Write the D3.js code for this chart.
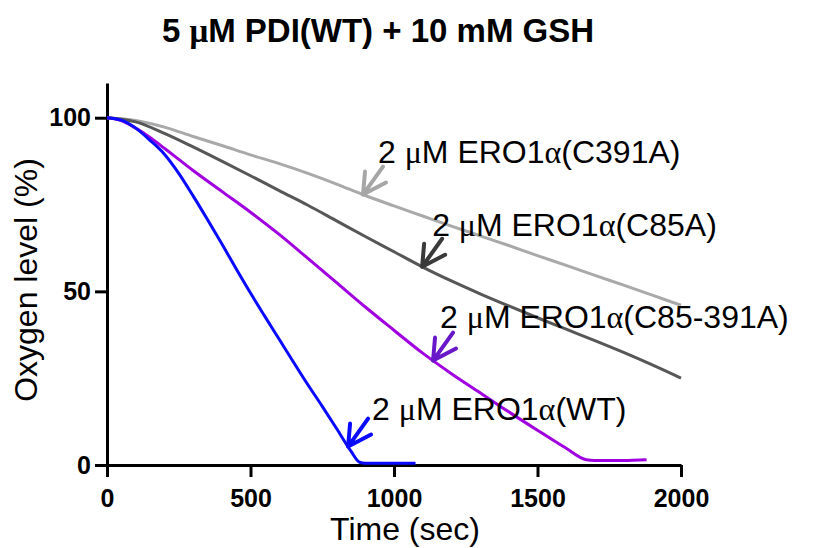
<!DOCTYPE html>
<html>
<head>
<meta charset="utf-8">
<script src="https://cdn.jsdelivr.net/npm/d3@7"></script>
<style>
  body { margin: 0; background: #fff; }
  text { font-family: "Liberation Sans", Arial, sans-serif; }
  tspan.greek { font-family: "Liberation Serif", "Times New Roman", serif; }
</style>
</head>
<body>
<div id="chart"></div>
<script>

// Time points (sec) and oxygen level (%)
var wtTime = [0, 50, 100, 150, 200, 250, 300, 350, 400, 450, 500, 550, 600, 650, 700, 750, 800, 850, 880, 900, 1000, 1075];
var wtLevel = [100, 99.3, 97, 93.5, 89.5, 84, 77.5, 70.7, 63.7, 56.5, 49.5, 42.8, 36.2, 29.6, 23.1, 16.9, 10.5, 4, 0.8, 0.5, 0.5, 0.5];

var dmTime = [0, 50, 100, 150, 200, 250, 300, 400, 500, 600, 700, 800, 900, 1000, 1100, 1200, 1300, 1400, 1500, 1600, 1670, 1700, 1800, 1880];
var dmLevel = [100, 99.2, 97, 94.3, 91.2, 88, 84.8, 78.8, 72.8, 66.4, 59.5, 52.5, 45.5, 38.8, 32.2, 26.3, 20.8, 15.3, 10, 4.8, 1.5, 1.3, 1.3, 1.5];

var c85Time = [0, 100, 200, 300, 400, 500, 600, 700, 800, 900, 1000, 1100, 1200, 1300, 1400, 1500, 1600, 1700, 1800, 1900, 2000];
var c85Level = [100, 98.8, 95.5, 91.6, 87.5, 83.3, 79, 74.8, 70.3, 65.8, 61.4, 57, 53, 49.3, 45.8, 42.4, 39.1, 35.8, 32.4, 28.8, 25];

var c391Time = [0, 100, 200, 300, 400, 500, 600, 700, 800, 900, 1000, 1100, 1200, 1300, 1400, 1500, 1600, 1700, 1800, 1900, 2000];
var c391Level = [100, 99.2, 97.3, 94.6, 92, 89.3, 86.8, 84, 80.9, 77.6, 74.6, 71.7, 68.8, 66, 63.2, 60.3, 57.5, 54.6, 51.8, 48.9, 46];

// Series names and where each arrow points (time on the curve)
var seriesNames = ["C391A", "C85A", "C85-391A", "WT"];
var arrowTime = [892, 1098, 1136, 840];

var xTicks = [0, 500, 1000, 1500, 2000];
var yTicks = [0, 50, 100];

var series = [
  {name: "C391A", time: c391Time, level: c391Level, color: "#a9a9a9", arrow: "#a6a6a6"},
  {name: "C85A", time: c85Time, level: c85Level, color: "#575757", arrow: "#3a3a3a"},
  {name: "C85-391A", time: dmTime, level: dmLevel, color: "#a000e0", arrow: "#6818c8"},
  {name: "WT", time: wtTime, level: wtLevel, color: "#0a0aff", arrow: "#0a0aff"}
];

// label placement relative to the arrow tip (px)
var labelOffset = {"C391A": [15, -32], "C85A": [10, -31], "C85-391A": [7, -33], "WT": [24, -27]};

var width = 819, height = 548;

var svg = d3.select("#chart")
  .append("svg")
  .attr("width", width)
  .attr("height", height);

var x = d3.scaleLinear()
  .domain([0, 2000])
  .range([107, 681]);

var y = d3.scaleLinear()
  .domain([0, 110])
  .range([465, 83]);

// Axes
var yAxis = svg.append("g")
  .attr("transform", "translate(" + x(0) + ",0)")
  .call(d3.axisLeft(y).tickValues(yTicks).tickFormat(d3.format("d"))
    .tickSize(12).tickSizeOuter(0).tickPadding(4));

var xAxis = svg.append("g")
  .attr("transform", "translate(0," + y(0) + ")")
  .call(d3.axisBottom(x).tickValues(xTicks).tickFormat(d3.format("d"))
    .tickSize(12).tickSizeOuter(0).tickPadding(12));

[xAxis, yAxis].forEach(function(g) {
  g.selectAll("path, line").attr("stroke", "#000").attr("stroke-width", 3);
  g.selectAll("text")
    .attr("fill", "#000")
    .style("font-size", "25px")
    .style("font-weight", "bold")
    .style("font-family", "'Liberation Sans', Arial, sans-serif");
});

// Curves
var line = d3.line()
  .x(function(d) { return x(d[0]); })
  .y(function(d) { return y(d[1]); })
  .curve(d3.curveMonotoneX);

series.forEach(function(s) {
  var pts = s.time.map(function(t, i) { return [t, s.level[i]]; });
  svg.append("path")
    .datum(pts)
    .attr("fill", "none")
    .attr("stroke", s.color)
    .attr("stroke-width", 3)
    .attr("stroke-linejoin", "round")
    .attr("d", line);
});

// Arrows and labels
seriesNames.forEach(function(name, i) {
  var s = series.filter(function(d) { return d.name === name; })[0];
  var t = arrowTime[i];
  var v = d3.scaleLinear().domain(s.time).range(s.level)(t);
  var tx = x(t), ty = y(v);

  svg.append("path")
    .attr("d", "M" + (tx + 20) + "," + (ty - 28) + "L" + tx + "," + ty +
               "M" + (tx + 2) + "," + (ty - 23) + "L" + tx + "," + ty +
               "L" + (tx + 23) + "," + (ty - 12))
    .attr("fill", "none")
    .attr("stroke", s.arrow)
    .attr("stroke-width", 4)
    .attr("stroke-linecap", "round")
    .attr("stroke-linejoin", "round");

  var lbl = svg.append("text")
    .attr("x", tx + labelOffset[name][0])
    .attr("y", ty + labelOffset[name][1])
    .style("font-size", "32px")
    .attr("fill", "#000");
  lbl.append("tspan").text("2 ");
  lbl.append("tspan").attr("class", "greek").text("\u03BC");
  lbl.append("tspan").text("M ERO1");
  lbl.append("tspan").attr("class", "greek").text("\u03B1");
  lbl.append("tspan").text("(" + name + ")");
});

// Title
var title = svg.append("text")
  .attr("x", 378)
  .attr("y", 42)
  .attr("text-anchor", "middle")
  .style("font-size", "33px")
  .style("font-weight", "bold");
title.append("tspan").text("5 ");
title.append("tspan").attr("class", "greek").text("\u03BC");
title.append("tspan").text("M PDI(WT) + 10 mM GSH");

// Axis labels
svg.append("text")
  .attr("x", 405)
  .attr("y", 540)
  .attr("text-anchor", "middle")
  .style("font-size", "32px")
  .text("Time (sec)");

svg.append("text")
  .attr("transform", "translate(37," + 280 + ") rotate(-90)")
  .attr("text-anchor", "middle")
  .style("font-size", "32px")
  .text("Oxygen level (%)");

</script>
</body>
</html>
